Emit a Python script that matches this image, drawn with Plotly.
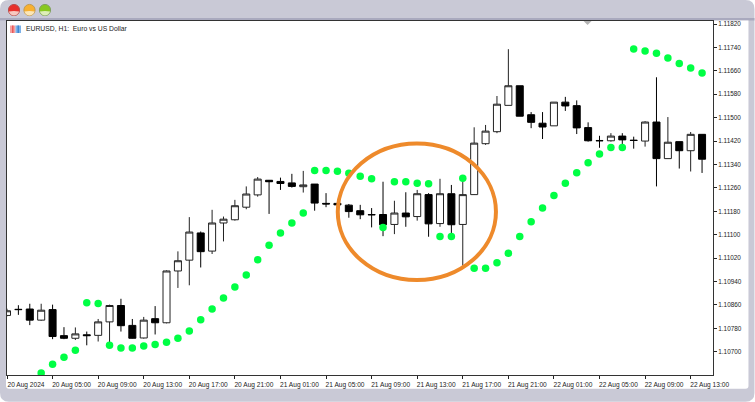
import plotly.graph_objects as go

bars = list(range(62))
opens = [1.10824,1.10845,1.10846,1.10808,1.10844,1.10755,1.10746,1.10758,1.10756,1.10802,
         1.10858,1.10790,1.10747,1.10813,1.10799,1.10976,1.11013,1.11106,1.11044,1.11140,
         1.11151,1.11194,1.11236,1.11286,1.11282,1.11277,1.11264,1.11273,1.11207,1.11207,
         1.11201,1.11182,1.11169,1.11169,1.11135,1.11174,1.11162,1.11237,1.11138,1.11240,
         1.11135,1.11237,1.11411,1.11452,1.11542,1.11609,1.11510,1.11481,1.11472,1.11553,
         1.11541,1.11466,1.11422,1.11421,1.11437,1.11423,1.11420,1.11485,1.11360,1.11418,
         1.11387,1.11443]
highs = [1.10847,1.10859,1.10864,1.10864,1.10861,1.10784,1.10783,1.10769,1.10812,1.10861,
         1.10881,1.10812,1.10819,1.10856,1.10978,1.11043,1.11160,1.11111,1.11185,1.11162,
         1.11219,1.11265,1.11297,1.11287,1.11295,1.11308,1.11318,1.11273,1.11242,1.11209,
         1.11205,1.11202,1.11191,1.11281,1.11216,1.11245,1.11253,1.11242,1.11291,1.11270,
         1.11304,1.11467,1.11475,1.11574,1.11734,1.11609,1.11519,1.11519,1.11553,1.11571,
         1.11559,1.11484,1.11438,1.11447,1.11447,1.11435,1.11488,1.11638,1.11502,1.11418,
         1.11451,1.11443]
lows = [1.10821,1.10826,1.10791,1.10806,1.10743,1.10743,1.10740,1.10722,1.10735,1.10730,
        1.10769,1.10745,1.10745,1.10759,1.10797,1.10918,1.10927,1.10988,1.11034,1.11077,
        1.11148,1.11187,1.11230,1.11171,1.11253,1.11261,1.11244,1.11182,1.11194,1.11200,
        1.11158,1.11153,1.11125,1.11095,1.11102,1.11127,1.11148,1.11093,1.11127,1.11105,
        1.10994,1.11236,1.11407,1.11447,1.11542,1.11505,1.11464,1.11427,1.11472,1.11523,
        1.11444,1.11418,1.11397,1.11418,1.11399,1.11394,1.11401,1.11265,1.11360,1.11326,
        1.11316,1.11311]
closes = [1.10840,1.10844,1.10808,1.10842,1.10752,1.10746,1.10761,1.10755,1.10802,1.10858,
          1.10789,1.10746,1.10808,1.10799,1.10976,1.11011,1.11109,1.11042,1.11140,1.11153,
          1.11199,1.11239,1.11290,1.11281,1.11275,1.11265,1.11270,1.11208,1.11205,1.11202,
          1.11179,1.11168,1.11168,1.11134,1.11174,1.11161,1.11240,1.11137,1.11240,1.11134,
          1.11237,1.11413,1.11454,1.11546,1.11609,1.11505,1.11484,1.11468,1.11553,1.11540,
          1.11465,1.11421,1.11421,1.11437,1.11424,1.11422,1.11485,1.11360,1.11416,1.11387,
          1.11443,1.11358]
sar = [None,None,None,1.10627,1.10657,1.10681,1.10705,1.10867,1.10865,1.10722,
       1.10713,1.10713,1.10720,1.10725,1.10732,1.10746,1.10771,1.10809,1.10846,1.10884,
       1.10921,1.10962,1.11014,1.11064,1.11106,1.11140,1.11174,1.11319,1.11319,1.11317,
       1.11310,1.11300,1.11291,1.11125,1.11281,1.11281,1.11276,1.11274,1.11094,1.11094,
       1.11293,1.10985,1.10985,1.11004,1.11037,1.11094,1.11144,1.11191,1.11234,1.11276,
       1.11312,1.11346,1.11376,1.11398,1.11398,1.11735,1.11728,1.11720,1.11704,1.11685,
       1.11670,1.11653]
x_tick_bars = [0,4,8,12,16,20,24,28,32,36,40,44,48,52,56,60]
x_tick_labels = ["20 Aug 2024","20 Aug 05:00","20 Aug 09:00","20 Aug 13:00","20 Aug 17:00","20 Aug 21:00",
                 "21 Aug 01:00","21 Aug 05:00","21 Aug 09:00","21 Aug 13:00","21 Aug 17:00","21 Aug 21:00",
                 "22 Aug 01:00","22 Aug 05:00","22 Aug 09:00","22 Aug 13:00"]
y_ticks = [1.11820,1.11740,1.11660,1.11580,1.11500,1.11420,1.11340,1.11260,
           1.11180,1.11100,1.11020,1.10940,1.10860,1.10780,1.10700]
title_text = "EURUSD, H1:\u00a0\u00a0Euro vs US Dollar"

W, H = 755, 402
L, R, T, B = 7, 713.5, 21, 375.3
INK = "#222222"
CHROME = "#C9C9D6"
FONT = "Liberation Sans"


def px(v):
    return (v - L) / (R - L)


def py(v):
    return (B - v) / (B - T)


def rr(x0, y0, x1, y1, rtl, rtr, rbr, rbl):
    a = [
        f"M{px(x0+rtl)} {py(y0)}", f"L{px(x1-rtr)} {py(y0)}",
        f"Q{px(x1)} {py(y0)} {px(x1)} {py(y0+rtr)}",
        f"L{px(x1)} {py(y1-rbr)}", f"Q{px(x1)} {py(y1)} {px(x1-rbr)} {py(y1)}",
        f"L{px(x0+rbl)} {py(y1)}", f"Q{px(x0)} {py(y1)} {px(x0)} {py(y1-rbl)}",
        f"L{px(x0)} {py(y0+rtl)}", f"Q{px(x0)} {py(y0)} {px(x0+rtl)} {py(y0)}", "Z",
    ]
    return " ".join(a)


def box(x0, y0, x1, y1, fill, layer="below"):
    return dict(type="rect", xref="paper", yref="paper", x0=px(x0), x1=px(x1), y0=py(y1), y1=py(y0),
                fillcolor=fill, line=dict(width=0), layer=layer)


def path(d, fill, layer="below"):
    return dict(type="path", xref="paper", yref="paper", path=d, fillcolor=fill, line=dict(width=0), layer=layer)


def circ(cx, cy, r, fill, line=None):
    return dict(type="circle", xref="paper", yref="paper", x0=px(cx-r), x1=px(cx+r), y0=py(cy+r), y1=py(cy-r),
                fillcolor=fill, line=dict(width=1 if line else 0, color=line or fill), layer="below")


shapes = [
    path(rr(0, 0, W, H, 9, 9, 9, 9), CHROME),
    box(0, 18, W, 20.5, "#A9A9BE"),
    path(rr(6, 20.5, 749, 389, 0, 0, 3, 3), "#FFFFFF"),
]
for cx, dark, mid, light in [(14, "#B85050", "#E8302C", "#F7C8C0"),
                             (29.5, "#C09A50", "#F8B030", "#FBE6B8"),
                             (45, "#80A060", "#88C820", "#DDEEB8")]:
    shapes += [
        circ(cx, 10, 5.6, mid, dark),
        path(f"M{px(cx-5.2)} {py(11.5)} Q{px(cx)} {py(10.5)} {px(cx+5.2)} {py(11.5)} "
             f"Q{px(cx+3.5)} {py(15.4)} {px(cx)} {py(15.4)} Q{px(cx-3.5)} {py(15.4)} {px(cx-5.2)} {py(11.5)} Z", light),
    ]
shapes += [
    box(10, 25.5, 15.5, 33, "#F4A0A0"),
    box(12, 25.5, 13.5, 33, "#E85858"),
    box(15.5, 25.5, 21, 33, "#7DB2E8"),
    box(17.5, 25.5, 19, 33, "#3E86D0"),
    path(f"M{px(584)} {py(21)} L{px(592)} {py(21)} L{px(588)} {py(25)} Z", "#B4B4B4", "above"),
    dict(type="circle", xref="paper", yref="paper", x0=px(338), x1=px(496.3), y0=py(280.3), y1=py(143.7),
         line=dict(color="#EE8A2B", width=4), fillcolor="rgba(0,0,0,0)", layer="above"),
]

fig = go.Figure()
fig.add_trace(go.Candlestick(
    x=bars, open=opens, high=highs, low=lows, close=closes,
    whiskerwidth=0,
    increasing=dict(line=dict(color=INK, width=1), fillcolor="#FFFFFF"),
    decreasing=dict(line=dict(color="#000000", width=1), fillcolor="#000000"),
    showlegend=False,
))
fig.add_trace(go.Scatter(
    x=bars, y=sar, mode="markers", showlegend=False,
    marker=dict(size=7.5, color="#00FF44", line=dict(width=0)),
))

fig.update_layout(
    width=W, height=H, autosize=False,
    margin=dict(l=L, r=W - R, t=T, b=H - B, pad=0),
    paper_bgcolor="#FFFFFF", plot_bgcolor="#FFFFFF",
    font=dict(family=FONT, size=6.6, color="#222222"),
    showlegend=False,
    boxgap=0.12,
    shapes=shapes,
    annotations=[dict(text=title_text, xref="paper", yref="paper", x=px(25), y=py(29), xanchor="left",
                      yanchor="middle", showarrow=False, font=dict(family=FONT, size=6.8, color="#222222"),
                      xshift=-1)],
    xaxis=dict(
        range=[0.0, 61.96], rangeslider=dict(visible=False), showgrid=False, zeroline=False,
        tickmode="array", tickvals=x_tick_bars, ticktext=x_tick_labels, tickangle=0,
        ticks="outside", ticklen=3, tickwidth=1, tickcolor=INK, showline=True, linecolor="#333333",
        linewidth=1, mirror=True, ticklabelshift=19, ticklabeloverflow="allow",
        tickfont=dict(family=FONT, size=6.6, color="#222222"),
    ),
    yaxis=dict(
        range=[1.106205, 1.118303], side="right", showgrid=False, zeroline=False,
        tickmode="array", tickvals=y_ticks, ticktext=[f"{v:.5f}" for v in y_ticks],
        ticks="outside", ticklen=3, tickwidth=1, tickcolor=INK, showline=True, linecolor="#333333",
        linewidth=1, mirror=True,
        tickfont=dict(family=FONT, size=6.4, color="#222222"),
    ),
)

fig.write_html("out.html", config=dict(displayModeBar=False),
               post_script="document.body.style.margin='0';document.documentElement.style.overflow='hidden';")
